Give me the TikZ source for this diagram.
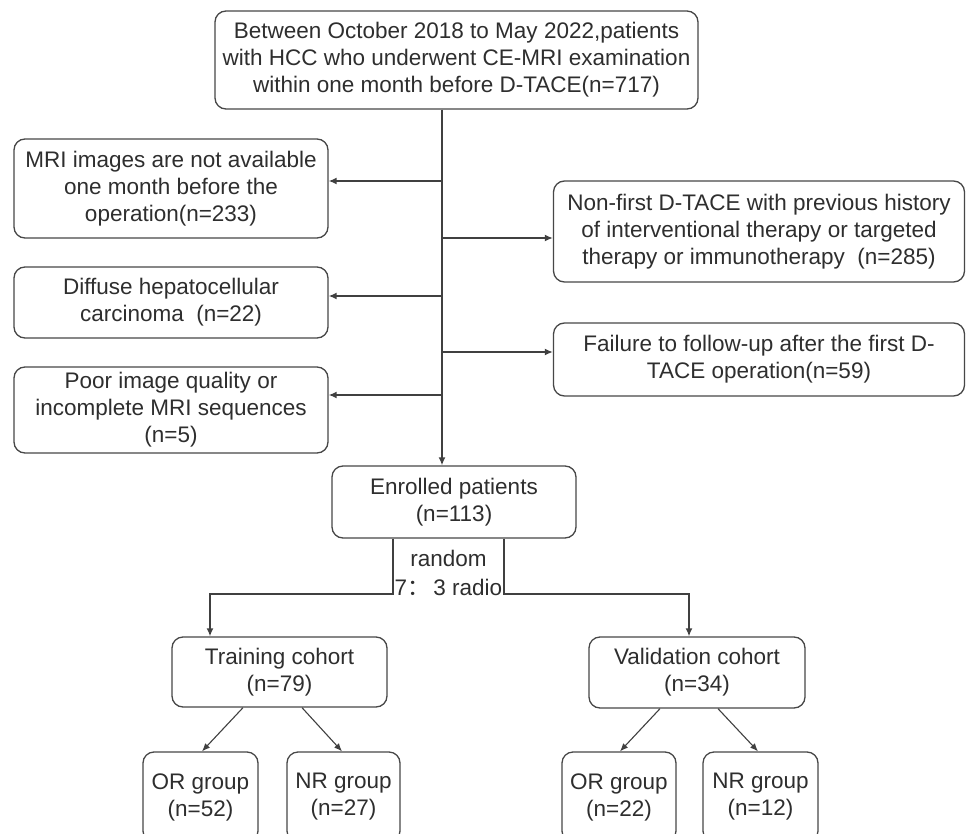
\documentclass[tikz,border=0pt]{standalone}
\usepackage{fontspec}
\setmainfont{Liberation Sans}
\newfontfamily\cjkfont{Noto Sans CJK SC}
\usetikzlibrary{arrows.meta}
\begin{document}
\begin{tikzpicture}[x=1pt,y=-1pt,
  box/.style={draw=black!72, line width=1.3pt, rounded corners=11pt, align=center,
    inner sep=0pt, text=black!82, font=\fontsize{22.5}{27}\selectfont},
  lbl/.style={align=center, inner sep=0pt, text=black!82, font=\fontsize{22.5}{29}\selectfont},
  conn/.style={draw=black!75, line width=1.5pt},
  arr/.style={conn, -{Latex[length=8pt,width=7pt]}},
  darr/.style={draw=black!75, line width=1.1pt, -{Latex[length=8pt,width=6.5pt]}}]
\useasboundingbox (0,0) rectangle (968,834);
\clip (0,0) rectangle (968,834);
\fill[white] (0,0) rectangle (968,834);

% boxes
\node[box, minimum width=483pt, minimum height=98pt] (top) at (456.5,60)
  {Between October 2018 to May 2022,patients\\with HCC who underwent CE-MRI examination\\within one month before D-TACE(n=717)};
\node[box, minimum width=314pt, minimum height=99pt] (mri) at (171,188.5)
  {MRI images are not available\\one month before the\\operation(n=233)};
\node[box, minimum width=314pt, minimum height=71pt] (diffuse) at (171,302.5)
  {Diffuse hepatocellular\\carcinoma\ \ (n=22)};
\node[box, minimum width=314pt, minimum height=86pt] (poor) at (171,410)
  {Poor image quality or\\incomplete MRI sequences\\(n=5)};
\node[box, minimum width=411pt, minimum height=101pt] (nonfirst) at (759,231.5)
  {Non-first D-TACE with previous history\\of interventional therapy or targeted\\therapy or immunotherapy\ \ (n=285)};
\node[box, minimum width=411pt, minimum height=73pt] (failure) at (759,359.5)
  {Failure to follow-up after the first D-\\TACE operation(n=59)};
\node[box, minimum width=244pt, minimum height=72pt] (enrolled) at (454,502)
  {Enrolled patients\\(n=113)};
\node[lbl] (random) at (448.5,572.5) {random\\7{\cjkfont ：}\,3 radio};
\node[box, minimum width=215pt, minimum height=70pt] (train) at (279.5,672)
  {Training cohort\\(n=79)};
\node[box, minimum width=216pt, minimum height=71pt] (valid) at (697,672.5)
  {Validation cohort\\(n=34)};
\node[box, minimum width=115pt, minimum height=90pt] (ort) at (200.5,797)
  {OR group\\(n=52)};
\node[box, minimum width=113pt, minimum height=90pt] (nrt) at (343.5,797)
  {NR group\\(n=27)};
\node[box, minimum width=114pt, minimum height=90pt] (orv) at (619,797)
  {OR group\\(n=22)};
\node[box, minimum width=115pt, minimum height=90pt] (nrv) at (760.5,797)
  {NR group\\(n=12)};

% spine and branches
\coordinate (sp) at (442,0);
\coordinate (b1) at (442,181);
\coordinate (b2) at (442,296);
\coordinate (b3) at (442,395);
\coordinate (b4) at (442,238);
\coordinate (b5) at (442,352);
\draw[arr] (sp |- top.south) -- (sp |- enrolled.north);
\draw[arr] (b1) -- (b1 -| mri.east);
\draw[arr] (b2) -- (b2 -| diffuse.east);
\draw[arr] (b3) -- (b3 -| poor.east);
\draw[arr] (b4) -- (b4 -| nonfirst.west);
\draw[arr] (b5) -- (b5 -| failure.west);

% random split
\coordinate (rl) at (393,594);
\coordinate (rr) at (504,594);
\coordinate (ta) at (210,0);
\coordinate (va) at (689,0);
\draw[arr] (rl |- enrolled.south) -- (rl) -| (ta |- train.north);
\draw[arr] (rr |- enrolled.south) -- (rr) -| (va |- valid.north);

% subgroups
\draw[darr] ([xshift=-36.5pt]train.south) -- ([xshift=1.5pt]ort.north);
\draw[darr] ([xshift=22.5pt]train.south) -- ([xshift=-1.5pt]nrt.north);
\draw[darr] ([xshift=-37pt]valid.south) -- ([xshift=1pt]orv.north);
\draw[darr] ([xshift=21pt]valid.south) -- ([xshift=-2.5pt]nrv.north);
\end{tikzpicture}
\end{document}
